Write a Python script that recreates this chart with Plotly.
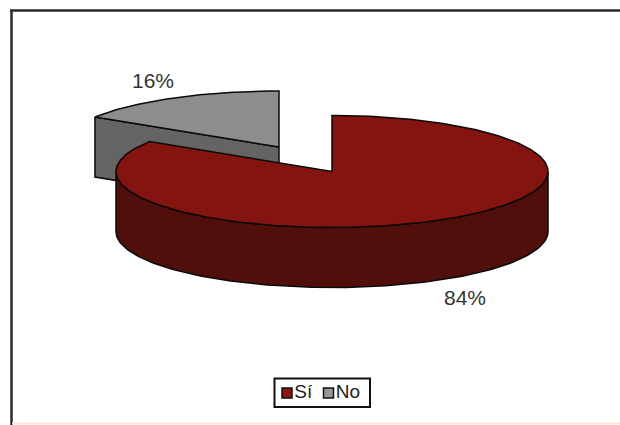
import numpy as np
import plotly.graph_objects as go

categories = ["Sí", "No"]
shares = [84, 16]
labels = ["84%", "16%"]
top_colors = ["#84140f", "#8f8d8b"]
wall_colors = ["#510f0c", "#666463"]
legend_colors = ["#8c1512", "#999693"]

W, H = 620, 425
RY, DEPTH = 56, 60
RED_C, RED_RX = (332, 171.5), 216
GREY_C, GREY_RX = (279, 147), 218
EDGE = dict(color="#0a0a0a", width=1.5)
FONT = "Liberation Sans, Arial, sans-serif"


def rim(center, rx, a0, a1, n=120, dy=0):
    t = np.radians(np.linspace(a0, a1, n))
    return center[0] + rx * np.sin(t), center[1] - RY * np.cos(t) + dy


end_red = shares[0] / sum(shares) * 360

fig = go.Figure()


def poly(x, y, color):
    fig.add_trace(go.Scatter(x=list(x), y=list(y), mode="lines", fill="toself",
                             fillcolor=color, line=EDGE, showlegend=False,
                             hoverinfo="skip"))


# grey slice: cut wall, then top
px, py = rim(GREY_C, GREY_RX, end_red, end_red, 1)
poly([px[0], GREY_C[0], GREY_C[0], px[0], px[0]],
     [py[0], GREY_C[1], GREY_C[1] + DEPTH, py[0] + DEPTH, py[0]], wall_colors[1])
ax, ay = rim(GREY_C, GREY_RX, end_red, 360)
poly([GREY_C[0], *ax, GREY_C[0]], [GREY_C[1], *ay, GREY_C[1]], top_colors[1])

# red slice: outer wall, then top
fx, fy = rim(RED_C, RED_RX, 90, 270)
bx, by = rim(RED_C, RED_RX, 270, 90, dy=DEPTH)
poly([*fx, *bx, fx[0]], [*fy, *by, fy[0]], wall_colors[0])
ax, ay = rim(RED_C, RED_RX, 0, end_red, n=300)
poly([RED_C[0], *ax, RED_C[0]], [RED_C[1], *ay, RED_C[1]], top_colors[0])

# compact legend: box, swatches and entry names
fig.add_shape(type="rect", x0=274.5, x1=370, y0=378.5, y1=407,
              line=dict(color="#111111", width=2), fillcolor="white", layer="below")
fig.add_trace(go.Scatter(x=[287, 328.5], y=[393, 393], mode="markers+text",
                         text=categories, textposition="middle right",
                         textfont=dict(family=FONT, size=19, color="#222222"),
                         marker=dict(symbol="square", size=10, color=legend_colors,
                                     line=dict(color="#111111", width=1.5)),
                         showlegend=False, hoverinfo="skip"))

fig.add_annotation(x=153, y=80, text=labels[1], showarrow=False,
                   font=dict(family=FONT, size=21, color="#333333"))
fig.add_annotation(x=465, y=297, text=labels[0], showarrow=False,
                   font=dict(family=FONT, size=21, color="#333333"))

# frame
fig.add_shape(type="line", x0=10, x1=620, y0=10.5, y1=10.5, line=dict(color="#2a2a2a", width=2.5))
fig.add_shape(type="line", x0=11.5, x1=11.5, y0=10, y1=425, line=dict(color="#2a2a2a", width=2.5))
fig.add_shape(type="line", x0=12, x1=620, y0=423.5, y1=423.5, line=dict(color="#fbe3d8", width=2))

fig.update_layout(
    width=W, height=H, margin=dict(l=0, r=0, t=0, b=0),
    paper_bgcolor="white", plot_bgcolor="white",
    xaxis=dict(range=[0, W], visible=False, fixedrange=True),
    yaxis=dict(range=[H, 0], visible=False, fixedrange=True),
    showlegend=False,
)

fig.write_html("out.html", post_script="document.body.style.margin='0';", config={"displayModeBar": False})
